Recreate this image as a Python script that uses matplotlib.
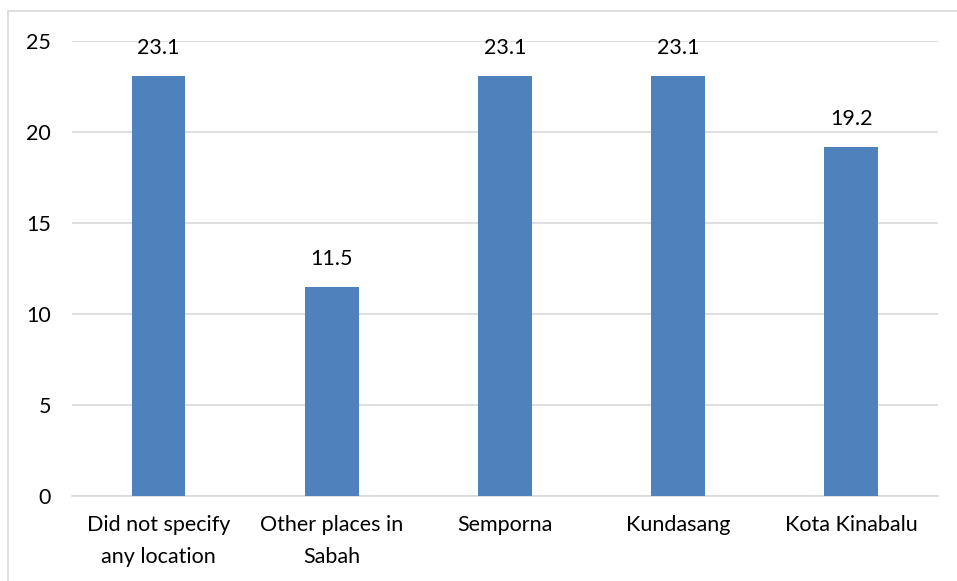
import matplotlib.pyplot as plt
from matplotlib.patches import Rectangle

locations = ['Did not specify\nany location', 'Other places in\nSabah', 'Semporna',
             'Kundasang', 'Kota Kinabalu']
percent = [23.1, 11.5, 23.1, 23.1, 19.2]
yticks = [0, 5, 10, 15, 20, 25]

plt.rcParams['font.family'] = ['Lato', 'DejaVu Sans']
fs = 15.5

fig = plt.figure(figsize=(9.57, 5.81), dpi=100)
ax = fig.add_axes([0.0752, 0.1463, 0.9048, 0.7831])

x = range(len(locations))
bars = ax.bar(x, percent, width=0.31, color='#4F81BD', zorder=3)
for b, v in zip(bars, percent):
    ax.annotate('%.1f' % v, (b.get_x() + b.get_width() / 2, v),
                xytext=(0, 13), textcoords='offset points',
                ha='center', va='bottom', fontsize=fs, color='#000000')

ax.set_xlim(-0.5, len(locations) - 0.5)
ax.set_ylim(0, 25)
ax.set_yticks(yticks)
ax.set_xticks(list(x))
ax.set_xticklabels(locations, fontsize=fs, linespacing=1.7)
ax.tick_params(axis='y', labelsize=fs, length=0, pad=15)
ax.tick_params(axis='x', length=0, pad=14)
ax.grid(axis='y', color='#D9D9D9', linewidth=1.2, zorder=0)
for s in ['top', 'right', 'left']:
    ax.spines[s].set_visible(False)
ax.spines['bottom'].set_color('#D9D9D9')
ax.spines['bottom'].set_linewidth(1.2)

# outer chart frame
fig.patches.append(Rectangle((8 / 957, -0.1), 1.2, 1 - 11 / 581 + 0.1,
                             transform=fig.transFigure, fill=False,
                             edgecolor='#D9D9D9', linewidth=1.2))

fig.savefig('out.png', dpi=100)
